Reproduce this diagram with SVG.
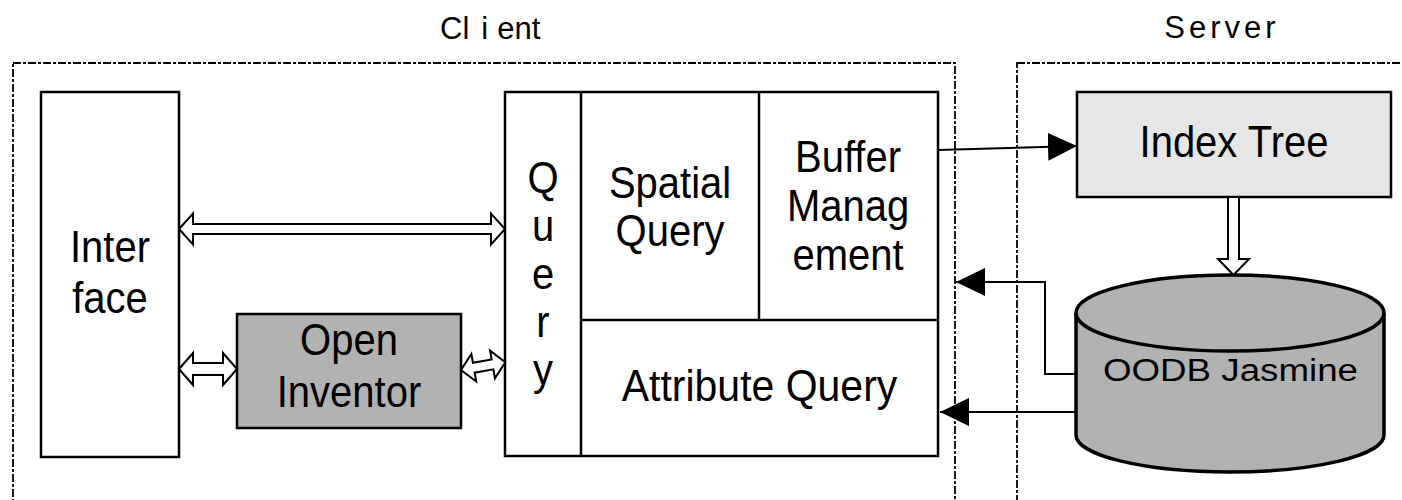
<svg xmlns="http://www.w3.org/2000/svg" width="1402" height="500" viewBox="0 0 1402 500">
<style>
.lbl{font-family:"Liberation Sans",Arial,Helvetica,sans-serif;font-size:40px;fill:#000;text-anchor:middle}
.ttl{font-family:"Liberation Sans",Arial,Helvetica,sans-serif;font-size:31px;fill:#000}
.box{stroke:#000;stroke-width:2.5}
.dash{fill:none;stroke:#000;stroke-width:1.8;stroke-dasharray:8 2 3 2}
.con{fill:none;stroke:#000;stroke-width:2}
.hollow{fill:#fff;stroke:#000;stroke-width:2;stroke-linejoin:miter}
</style>
<defs>
<marker id="ah" viewBox="0 0 29 28" refX="29" refY="14" markerWidth="29" markerHeight="28" markerUnits="userSpaceOnUse" orient="auto">
<path d="M0,0 L29,14 L0,28 Z" fill="#000"/>
</marker>
</defs>
<rect width="1402" height="500" fill="#fff"/>

<g id="client">
<rect class="dash" x="13" y="63" width="942" height="460"/>
<text class="ttl" x="440" y="39">Cl<tspan dx="12">i</tspan><tspan dx="9">ent</tspan></text>
</g>
<g id="server">
<rect class="dash" x="1017" y="63" width="420" height="460"/>
<text class="ttl" x="1222" y="38" style="text-anchor:middle;letter-spacing:4px">Server</text>
</g>

<g id="interface">
<rect class="box" x="41" y="92" width="138" height="365" fill="#fff"/>
<text class="lbl" transform="translate(110,262) scale(1,1.1)">Inter</text>
<text class="lbl" transform="translate(110,313) scale(1,1.1)">face</text>
</g>

<g id="open-inventor">
<rect class="box" x="237" y="314" width="224" height="114" fill="#b2b2b2"/>
<text class="lbl" transform="translate(349,355) scale(1,1.1)">Open</text>
<text class="lbl" transform="translate(349,407) scale(1,1.1)">Inventor</text>
</g>

<g id="query">
<rect class="box" x="505" y="92" width="433" height="364" fill="#fff"/>
<line class="box" x1="581" y1="92" x2="581" y2="456"/>
<line class="box" x1="759" y1="92" x2="759" y2="320"/>
<line class="box" x1="581" y1="320" x2="938" y2="320"/>
<text class="lbl" transform="translate(543,193) scale(1,1.1)">Q</text>
<text class="lbl" transform="translate(543,241) scale(1,1.1)">u</text>
<text class="lbl" transform="translate(543,289) scale(1,1.1)">e</text>
<text class="lbl" transform="translate(543,337) scale(1,1.1)">r</text>
<text class="lbl" transform="translate(543,385) scale(1,1.1)">y</text>
</g>
<g id="spatial-query">
<text class="lbl" transform="translate(670,198) scale(1,1.1)">Spatial</text>
<text class="lbl" transform="translate(670,246) scale(1,1.1)">Query</text>
</g>
<g id="buffer-management">
<text class="lbl" transform="translate(848,172) scale(1,1.1)">Buffer</text>
<text class="lbl" transform="translate(848,221) scale(1,1.1)">Manag</text>
<text class="lbl" transform="translate(848,270) scale(1,1.1)">ement</text>
</g>
<g id="attribute-query">
<text class="lbl" transform="translate(759.5,401) scale(1,1.1)" style="font-size:41px">Attribute Query</text>
</g>

<g id="index-tree">
<rect class="box" x="1077" y="92" width="314" height="105" fill="#e6e6e6"/>
<text class="lbl" transform="translate(1234,157) scale(1,1.1)">Index Tree</text>
</g>

<g id="oodb">
<path d="M1076,313 L1076,435 A154,37 0 0 0 1384,435 L1384,313 A154,38 0 0 0 1076,313 Z" fill="#b2b2b2" stroke="#000" stroke-width="3.5"/>
<path d="M1076,313 A154,38 0 0 0 1384,313" fill="none" stroke="#000" stroke-width="3.5"/>
<text class="ttl" x="1103" y="381" textLength="255" lengthAdjust="spacingAndGlyphs" style="font-size:31px">OODB Jasmine</text>
</g>

<g id="connectors">
<polygon class="hollow" points="179,229 193,213.5 193,224 491,224 491,213.5 505,229 491,244.5 491,234 193,234 193,244.5"/>
<polygon class="hollow" points="179,369 193,353 193,363 223,363 223,353 237,369 223,385 223,375 193,375 193,385"/>
<polygon class="hollow" transform="translate(461,370) rotate(-10)" points="0,0 13,-14 13,-5 32,-5 32,-14 45,0 32,14 32,5 13,5 13,14"/>
<polygon class="hollow" points="1228,197 1239,197 1239,259 1249,259 1233.5,275 1218,259 1228,259"/>
<line class="con" x1="938" y1="150" x2="1077" y2="146" marker-end="url(#ah)"/>
<polyline class="con" points="1077,374 1045,374 1045,282 956,282" marker-end="url(#ah)"/>
<line class="con" x1="1077" y1="412" x2="940" y2="412" marker-end="url(#ah)"/>
</g>
</svg>
